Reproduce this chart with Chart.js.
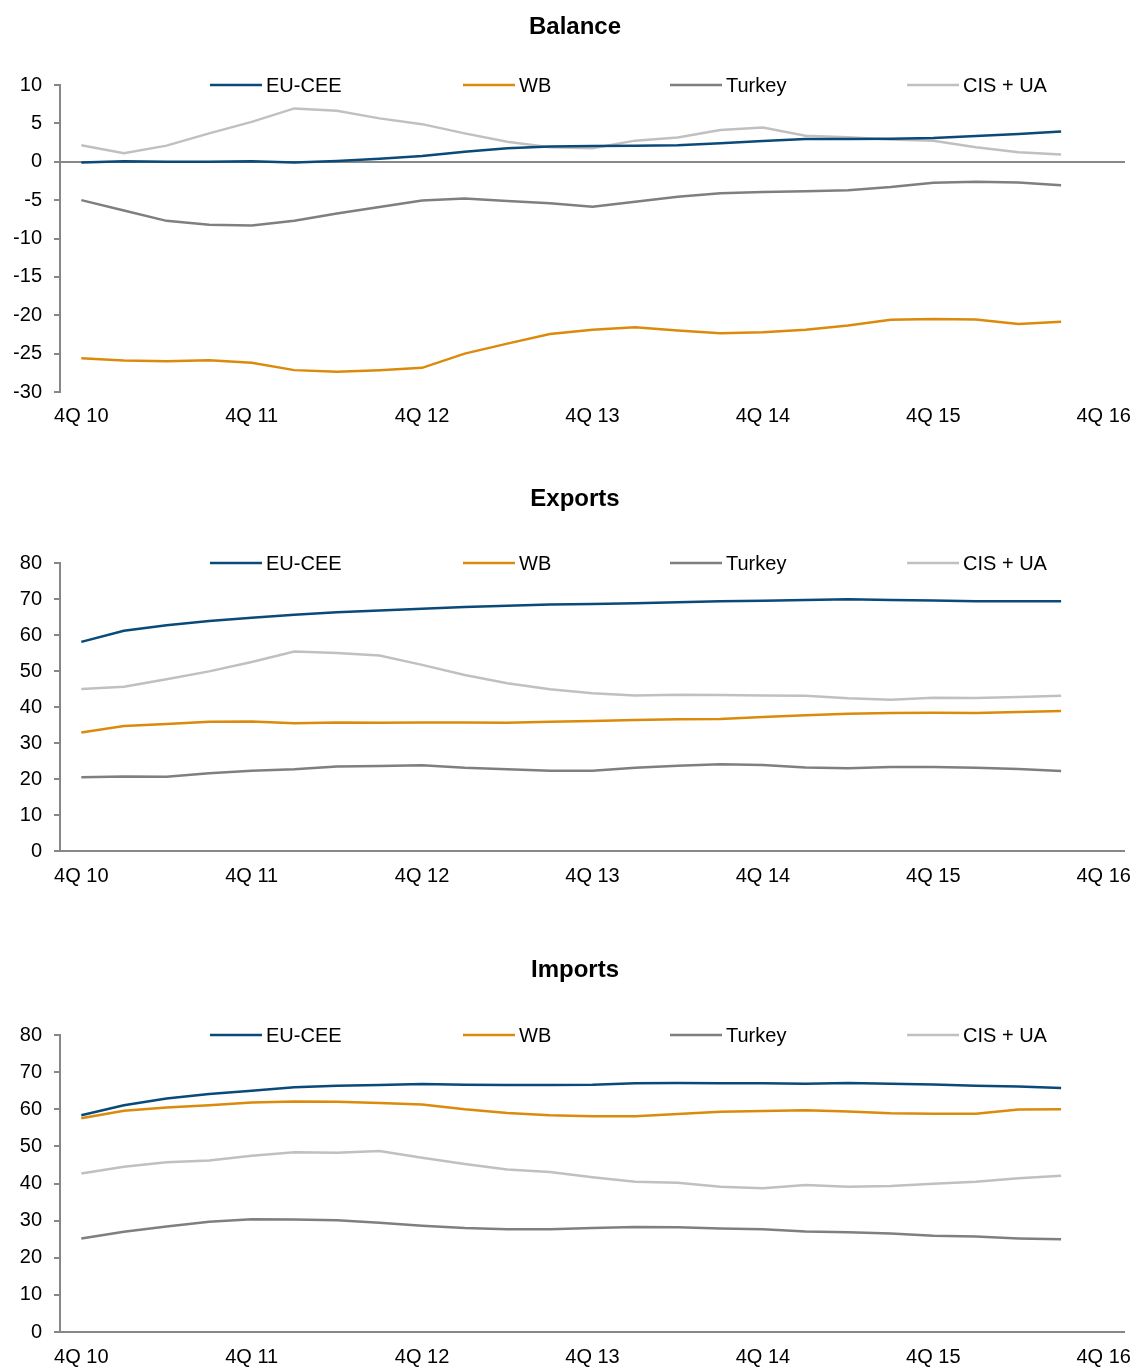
<!DOCTYPE html>
<html>
<head>
<meta charset="utf-8">
<script src="https://cdn.jsdelivr.net/npm/chart.js@4.4.1/dist/chart.umd.min.js"></script>
<style>
  html, body { margin: 0; padding: 0; background: #fff; overflow: hidden; }
  body { width: 1136px; height: 1367px; position: relative; }
  canvas { position: absolute; left: 0; display: block; }
</style>
</head>
<body>
<canvas id="balance" width="1136" height="432" style="top:0px"></canvas>
<canvas id="exports" width="1136" height="419" style="top:472px"></canvas>
<canvas id="imports" width="1136" height="429" style="top:943px"></canvas>
<script>
// Quarterly axis, 4Q 2010 through 4Q 2016 (last quarter has no data yet)
const quarters = [
  '4Q 10', '1Q 11', '2Q 11', '3Q 11', '4Q 11', '1Q 12', '2Q 12', '3Q 12',
  '4Q 12', '1Q 13', '2Q 13', '3Q 13', '4Q 13', '1Q 14', '2Q 14', '3Q 14',
  '4Q 14', '1Q 15', '2Q 15', '3Q 15', '4Q 15', '1Q 16', '2Q 16', '3Q 16', '4Q 16'
];
const regionNames = ['EU-CEE', 'WB', 'Turkey', 'CIS + UA'];

// Trade balance
const balanceEUCEE  = [-0.1, 0.05, 0, 0, 0.05, -0.1, 0.1, 0.4, 0.75, 1.3, 1.75, 2.0, 2.05, 2.1, 2.15, 2.4, 2.7, 2.95, 2.95, 3.0, 3.1, 3.35, 3.6, 3.95];
const balanceWB     = [-25.6, -25.9, -26.0, -25.85, -26.2, -27.15, -27.35, -27.15, -26.85, -25.0, -23.7, -22.45, -21.9, -21.55, -22.0, -22.35, -22.2, -21.9, -21.35, -20.6, -20.5, -20.55, -21.15, -20.85];
const balanceTurkey = [-5.0, -6.35, -7.7, -8.2, -8.3, -7.7, -6.75, -5.9, -5.05, -4.8, -5.1, -5.4, -5.85, -5.2, -4.55, -4.1, -3.95, -3.85, -3.7, -3.3, -2.75, -2.6, -2.7, -3.05];
const balanceCIS    = [2.15, 1.1, 2.1, 3.7, 5.2, 6.95, 6.65, 5.65, 4.9, 3.7, 2.6, 1.9, 1.75, 2.75, 3.15, 4.15, 4.45, 3.4, 3.2, 2.9, 2.75, 1.9, 1.25, 0.95];

// Exports
const exportsEUCEE  = [58.1, 61.2, 62.7, 63.9, 64.8, 65.6, 66.3, 66.8, 67.3, 67.8, 68.1, 68.5, 68.6, 68.8, 69.1, 69.35, 69.5, 69.7, 69.9, 69.7, 69.6, 69.4, 69.4, 69.4];
const exportsWB     = [32.9, 34.7, 35.3, 35.9, 36.0, 35.5, 35.7, 35.6, 35.7, 35.7, 35.6, 35.9, 36.1, 36.4, 36.6, 36.7, 37.2, 37.7, 38.1, 38.3, 38.4, 38.3, 38.6, 38.9];
const exportsTurkey = [20.5, 20.7, 20.6, 21.6, 22.3, 22.7, 23.5, 23.6, 23.8, 23.1, 22.7, 22.3, 22.3, 23.1, 23.7, 24.1, 23.9, 23.2, 23.0, 23.3, 23.3, 23.1, 22.8, 22.2];
const exportsCIS    = [45.0, 45.6, 47.7, 49.9, 52.5, 55.4, 55.0, 54.3, 51.7, 48.9, 46.6, 44.9, 43.8, 43.2, 43.4, 43.3, 43.2, 43.1, 42.4, 42.0, 42.6, 42.5, 42.8, 43.1];

// Imports
const importsEUCEE  = [58.4, 61.1, 62.9, 64.1, 65.0, 65.9, 66.3, 66.5, 66.8, 66.6, 66.5, 66.5, 66.6, 67.0, 67.05, 67.0, 67.0, 66.9, 67.05, 66.9, 66.7, 66.3, 66.1, 65.7];
const importsWB     = [57.6, 59.6, 60.5, 61.1, 61.8, 62.1, 62.0, 61.7, 61.3, 60.0, 59.0, 58.4, 58.1, 58.1, 58.7, 59.3, 59.5, 59.7, 59.4, 58.9, 58.8, 58.8, 59.9, 60.0];
const importsTurkey = [25.2, 27.0, 28.4, 29.7, 30.4, 30.3, 30.1, 29.45, 28.65, 28.0, 27.65, 27.65, 28.0, 28.3, 28.2, 27.9, 27.65, 27.1, 26.85, 26.5, 25.95, 25.7, 25.2, 24.95];
const importsCIS    = [42.7, 44.5, 45.7, 46.2, 47.5, 48.4, 48.3, 48.75, 46.95, 45.25, 43.8, 43.1, 41.7, 40.5, 40.2, 39.1, 38.7, 39.6, 39.1, 39.3, 39.9, 40.5, 41.4, 42.1];

// Styling
const seriesColors = ['#0a4a78', '#dc8a0c', '#7f7f7f', '#c0c0c0'];
const axisColor = '#878787';
const FONT = '"Liberation Sans", Arial, Helvetica, sans-serif';
const legendSlots = [210, 463, 670, 907];   // left edge of each legend sample line

Chart.defaults.font.family = FONT;
Chart.defaults.color = '#000';

// Legend drawn inside the plot, on the row of the top tick
const insideLegend = {
  id: 'insideLegend',
  afterDraw(chart) {
    const ctx = chart.ctx;
    const y = chart.chartArea.top;
    ctx.save();
    ctx.font = '20px ' + FONT;
    ctx.textBaseline = 'middle';
    ctx.textAlign = 'left';
    chart.data.datasets.forEach((ds, i) => {
      const x = legendSlots[i];
      ctx.strokeStyle = ds.borderColor;
      ctx.lineWidth = 2.5;
      ctx.beginPath();
      ctx.moveTo(x, y);
      ctx.lineTo(x + 52, y);
      ctx.stroke();
      ctx.fillStyle = '#000';
      ctx.fillText(ds.label, x + 56, y + 1);
    });
    ctx.restore();
  }
};

function makePanel(id, title, series, yMin, yMax, step, titleGapBelow, labelPad) {
  const datasets = series.map((values, i) => ({
    label: regionNames[i],
    data: values,
    borderColor: seriesColors[i],
    backgroundColor: seriesColors[i],
    borderWidth: 2.5,
    pointRadius: 0,
    tension: 0,
    fill: false
  }));
  return new Chart(document.getElementById(id), {
    type: 'line',
    data: { labels: quarters, datasets },
    plugins: [insideLegend],
    options: {
      responsive: false,
      devicePixelRatio: 1,
      animation: false,
      events: [],
      // left padding offsets the centred title; the y axis box fills the rest up to x = 60
      layout: { padding: { left: 14, right: 0, top: 0, bottom: 0 } },
      plugins: {
        legend: { display: false },
        tooltip: { enabled: false },
        title: {
          display: true,
          text: title,
          color: '#000',
          font: { size: 24, weight: 'bold', family: FONT, lineHeight: 1.2 },
          padding: { top: 13, bottom: titleGapBelow }
        }
      },
      scales: {
        x: {
          type: 'category',
          offset: true,
          grid: { display: false, drawTicks: false },
          border: { display: false },
          ticks: {
            autoSkip: false,
            maxRotation: 0,
            minRotation: 0,
            padding: labelPad,
            font: { size: 20, family: FONT },
            color: '#000',
            callback: (v, i) => (i % 4 === 0 ? quarters[i] : '')
          },
          afterFit: (scale) => {
            scale.height = 40;
            scale.paddingLeft = 0;
            scale.paddingRight = 11;
          }
        },
        y: {
          min: yMin,
          max: yMax,
          grid: {
            drawOnChartArea: true,
            drawTicks: true,
            tickLength: 6,
            tickColor: axisColor,
            lineWidth: 2,
            color: (ctx) => (ctx.tick && ctx.tick.value === 0 ? axisColor : 'rgba(0,0,0,0)')
          },
          border: { display: true, color: axisColor, width: 2 },
          ticks: {
            stepSize: step,
            padding: 12,
            font: { size: 20, family: FONT },
            color: '#000'
          },
          afterFit: (scale) => { scale.width = 46; }
        }
      }
    }
  });
}

makePanel('balance', 'Balance',
  [balanceEUCEE, balanceWB, balanceTurkey, balanceCIS], -30, 10, 5, 43.2, 12);
makePanel('exports', 'Exports',
  [exportsEUCEE, exportsWB, exportsTurkey, exportsCIS], 0, 80, 10, 49.2, 13);
makePanel('imports', 'Imports',
  [importsEUCEE, importsWB, importsTurkey, importsCIS], 0, 80, 10, 50.2, 13);
</script>
</body>
</html>
